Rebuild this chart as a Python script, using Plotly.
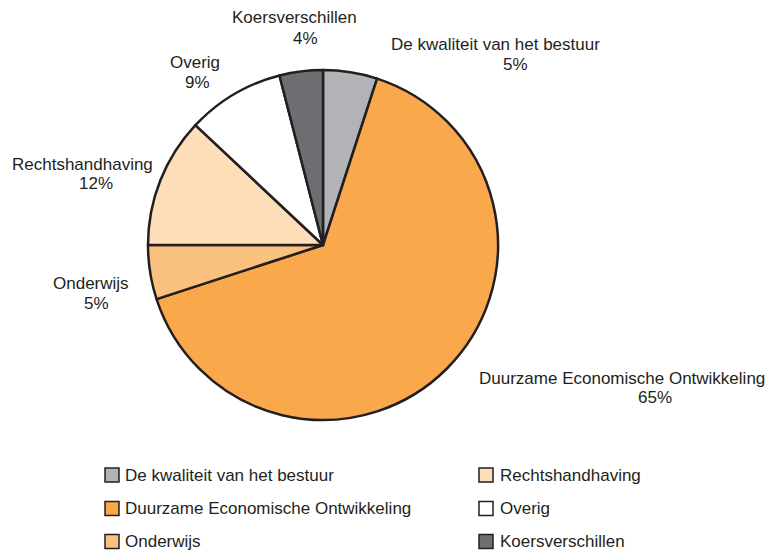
import plotly.graph_objects as go

# ---- data ----
labels = ["De kwaliteit van het bestuur", "Duurzame Economische Ontwikkeling", "Onderwijs",
          "Rechtshandhaving", "Overig", "Koersverschillen"]
values = [5, 65, 5, 12, 9, 4]
colors = ["#B1B3B6", "#F9A94B", "#FBC17F", "#FDDEB9", "#FFFFFF", "#6D6E71"]

# ---- layout helpers (positions, not data) ----
W, H = 767, 553
TXT = "#231F20"
FONT = "Liberation Sans"
FS = 17

# slice label positions (px): name line centre, percent line centre
name_pos = [(495, 45), (622, 378), (91, 283), (82, 164), (195, 63), (294, 18)]
pct_pos = [(515, 64.5), (655, 397), (96, 303), (96, 183), (197, 82), (305, 38)]
# legend item positions (px): square left x, text left x, row centre y
legend_pos = [(105, 123, 475), (105, 123, 508.5), (105, 123, 541.5),
              (479, 498, 475), (479, 498, 508.5), (479, 498, 541.5)]
SQ = 14

cx, cy, r = 323, 245, 175


def px_x(v):
    return v / W


def px_y(v):
    return 1 - v / H


fig = go.Figure()
fig.add_trace(go.Pie(
    labels=labels, values=values, sort=False, direction="clockwise", rotation=0,
    marker=dict(colors=colors, line=dict(color=TXT, width=2.5)),
    textinfo="none", hoverinfo="label+percent", showlegend=False,
    domain=dict(x=[(cx - r) / W, (cx + r) / W], y=[(H - cy - r) / H, (H - cy + r) / H]),
))

font = dict(family=FONT, size=FS, color=TXT)
annotations = []
shapes = []
for lab, val, (nx, ny), (qx, qy) in zip(labels, values, name_pos, pct_pos):
    annotations.append(dict(text=lab, x=px_x(nx), y=px_y(ny), xref="paper", yref="paper",
                            xanchor="center", yanchor="middle", showarrow=False, font=font))
    annotations.append(dict(text=f"{val}%", x=px_x(qx), y=px_y(qy), xref="paper", yref="paper",
                            xanchor="center", yanchor="middle", showarrow=False, font=font))

for lab, col, (sx, tx, ry) in zip(labels, colors, legend_pos):
    shapes.append(dict(type="rect", xref="paper", yref="paper",
                       x0=px_x(sx), x1=px_x(sx + SQ), y0=px_y(ry + SQ / 2), y1=px_y(ry - SQ / 2),
                       fillcolor=col, line=dict(color=TXT, width=1.5)))
    annotations.append(dict(text=lab, x=px_x(tx), y=px_y(ry), xref="paper", yref="paper",
                            xanchor="left", yanchor="middle", showarrow=False, font=font))

fig.update_layout(
    width=W, height=H, margin=dict(l=0, r=0, t=0, b=0),
    paper_bgcolor="white", plot_bgcolor="white",
    annotations=annotations, shapes=shapes, showlegend=False,
)
fig.write_html("out.html", config={"displayModeBar": False},
               post_script="document.body.style.margin='0';document.body.style.overflow='hidden';")
